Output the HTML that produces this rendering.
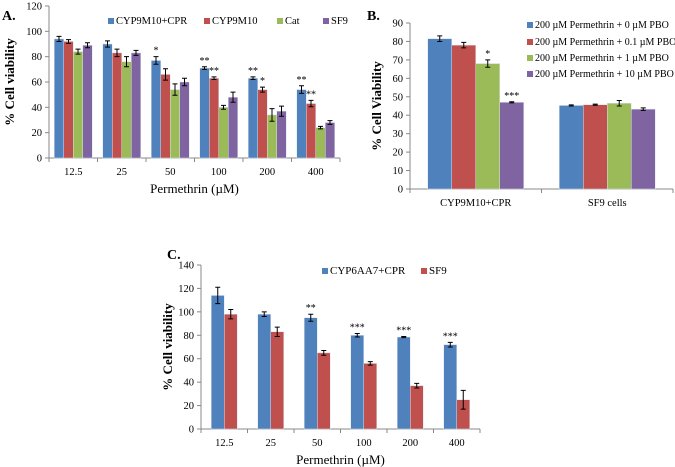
<!DOCTYPE html>
<html><head><meta charset="utf-8">
<style>
html,body{margin:0;padding:0;background:#fff;}
svg{display:block;}
svg text{font-family:"Liberation Serif","Times New Roman",serif;}
</style></head>
<body>
<svg id="fig" width="675" height="467" viewBox="0 0 675 467" xmlns="http://www.w3.org/2000/svg" font-family="Liberation Serif, serif">
<text x="2" y="20" font-size="14" font-weight="bold" font-family="Liberation Serif, serif">A.</text>
<text x="367" y="20" font-size="14" font-weight="bold" font-family="Liberation Serif, serif">B.</text>
<text x="167" y="259" font-size="14" font-weight="bold" font-family="Liberation Serif, serif">C.</text>
</svg>
<script>
// Panel A data
const catsA = ["12.5","25","50","100","200","400"];
const seriesNamesA = ["CYP9M10+CPR","CYP9M10","Cat","SF9"];
const blueA = [94,90,77,71,63,54];
const redA = [92,83,66,63,54,43];
const greenA = [84,76,54,40,34,24];
const purpleA = [89,83,60,48,37,28];
const errBlueA = [2,2.5,3,1,1,3];
const errRedA = [1.5,3,4.5,1,2,2.5];
const errGreenA = [2,4,4.5,1.5,5,1];
const errPurpleA = [2,2,3,4,4,1.5];
const starsBlueA = ["","","*","**","**","**"];
const starsRedA = ["","","","**","*","**"];
const ticksA = [0,20,40,60,80,100,120];
// Panel B data
const catsB = ["CYP9M10+CPR","SF9 cells"];
const seriesNamesB = ["200 \u00b5M Permethrin + 0 \u00b5M PBO","200 \u00b5M Permethrin + 0.1 \u00b5M PBO","200 \u00b5M Permethrin + 1 \u00b5M PBO","200 \u00b5M Permethrin + 10 \u00b5M PBO"];
const pbo0B = [81.5,45.3];
const pbo01B = [78,45.7];
const pbo1B = [68,46.5];
const pbo10B = [47,43.3];
const errPbo0B = [1.5,0.3];
const errPbo01B = [1.5,0.3];
const errPbo1B = [2,1.5];
const errPbo10B = [0.3,0.7];
const starsPbo1B = ["*",""];
const starsPbo10B = ["***",""];
const ticksB = [0,10,20,30,40,50,60,70,80,90];
// Panel C data
const catsC = ["12.5","25","50","100","200","400"];
const seriesNamesC = ["CYP6AA7+CPR","SF9"];
const blueC = [114,98,95,80,78.5,72];
const redC = [98,83,65,56,37,25];
const errBlueC = [7,2,3,1.5,0.5,2];
const errRedC = [4,4,2,1.5,2,8];
const starsBlueC = ["","","**","***","***","***"];
const ticksC = [0,20,40,60,80,100,120,140];

const COLORS = ["#4f81bd","#c0504d","#9bbb59","#8064a2"];
const svg = document.getElementById('fig');
const NS = "http://www.w3.org/2000/svg";
function mk(tag, attrs, parent){
  const e = document.createElementNS(NS, tag);
  for (const k in attrs) e.setAttribute(k, attrs[k]);
  (parent||svg).appendChild(e);
  return e;
}
function txt(x,y,s,size,anchor,parent){
  const t = mk('text',{x:x,y:y,'font-size':size,'text-anchor':anchor||'middle','font-family':'Liberation Serif, serif'},parent);
  t.textContent = s;
  return t;
}

function panel(p){
  const g = mk('g',{});
  
  
  const yMax = p.ticks[p.ticks.length-1];
  const ys = v => p.y0 - (v / yMax) * (p.y0 - p.yTop);
  const n = p.cats.length;
  const cw = (p.x1 - p.x0) / n;
  const xc = i => p.x0 + cw*(i+0.5);
  const ya = mk('line',{x1:p.x0,y1:p.yTop,x2:p.x0,y2:p.y0,stroke:'#888','stroke-width':1},g);
  
  
  p.ticks.forEach(t=>{
    mk('line',{x1:p.x0-4,y1:ys(t),x2:p.x0,y2:ys(t),stroke:'#888'},g);
    const tl = txt(p.x0-7, ys(t)+3.5, String(t), 10.5, 'end', g);
    
    
  });
  const xa = mk('line',{x1:p.x0,y1:p.y0,x2:p.x1,y2:p.y0,stroke:'#888'},g);
  
  
  for (let i=0;i<=n;i++) mk('line',{x1:p.x0+cw*i,y1:p.y0,x2:p.x0+cw*i,y2:p.y0+4,stroke:'#888'},g);
  p.cats.forEach((c,i)=>{
    const tl = txt(xc(i), p.y0+17, c, 10.5, 'middle', g);
    
    
  });
  const ns = p.series.length;
  const bw = p.bw;
  p.series.forEach((vals,s)=>{
    vals.forEach((v,i)=>{
      const bx = xc(i) - ns*bw/2 + s*bw;
      const r = mk('rect',{x:bx,y:ys(v),width:bw,height:p.y0-ys(v),fill:COLORS[s],stroke:'#dbe3f0','stroke-width':0.5},g);
      
      
      const e = p.errs[s][i];
      const cx = bx + bw/2;
      const eg = mk('path',{d:`M${cx-2.5},${ys(v+e)}H${cx+2.5}M${cx},${ys(v+e)}V${ys(v-e)}M${cx-2.5},${ys(v-e)}H${cx+2.5}`,stroke:'#000','stroke-width':1,fill:'none'},g);
      
      
      const st = p.stars[s] ? p.stars[s][i] : "";
      if (st) {
        const t = txt(cx, ys(v+e)-3, st, 10, 'middle', g);
        
        
      }
    });
  });
  p.legend.forEach((L,s)=>{
    const lg = mk('g',{},g);
    
    
    mk('rect',{x:L[0],y:L[1]-6,width:6,height:6,fill:COLORS[s]},lg);
    txt(L[0]+8, L[1], p.names[s], p.legendSize, 'start', lg);
  });
  const yt = txt(0,0,"% Cell " + p.ylabWord, 13, 'middle', g);
  yt.setAttribute('transform', `translate(${p.ylabX},${(p.y0+p.yTop)/2}) rotate(-90)`);
  yt.setAttribute('font-weight','bold');
  
  
  if (p.xlab) {
    const xt = txt((p.x0+p.x1)/2, p.y0+35, "Permethrin  (\u00b5M)", 13, 'middle', g);
    
    
  }
}

panel({name:'panel-a', x0:49, x1:340, y0:158, yTop:6, ticks:ticksA, cats:catsA,
  series:[blueA,redA,greenA,purpleA], errs:[errBlueA,errRedA,errGreenA,errPurpleA],
  stars:[starsBlueA,starsRedA], bw:9.5, names:seriesNamesA, legendSize:10.5,
  legend:[[108,24],[204,24],[277,24],[323,24]], ylabWord:'viability', ylabX:14, xlab:true});
panel({name:'panel-b', x0:410, x1:673, y0:189, yTop:23, ticks:ticksB, cats:catsB,
  series:[pbo0B,pbo01B,pbo1B,pbo10B], errs:[errPbo0B,errPbo01B,errPbo1B,errPbo10B],
  stars:[null,null,starsPbo1B,starsPbo10B], bw:24, names:seriesNamesB, legendSize:10,
  legend:[[527,28],[527,45],[527,61],[527,77]], ylabWord:'Viability', ylabX:381, xlab:false});
panel({name:'panel-c', x0:201, x1:480, y0:429, yTop:265, ticks:ticksC, cats:catsC,
  series:[blueC,redC], errs:[errBlueC,errRedC], stars:[starsBlueC], bw:13,
  names:seriesNamesC, legendSize:11, legend:[[322,274],[421,274]], ylabWord:'viability', ylabX:172, xlab:true});
</script>
</body></html>
